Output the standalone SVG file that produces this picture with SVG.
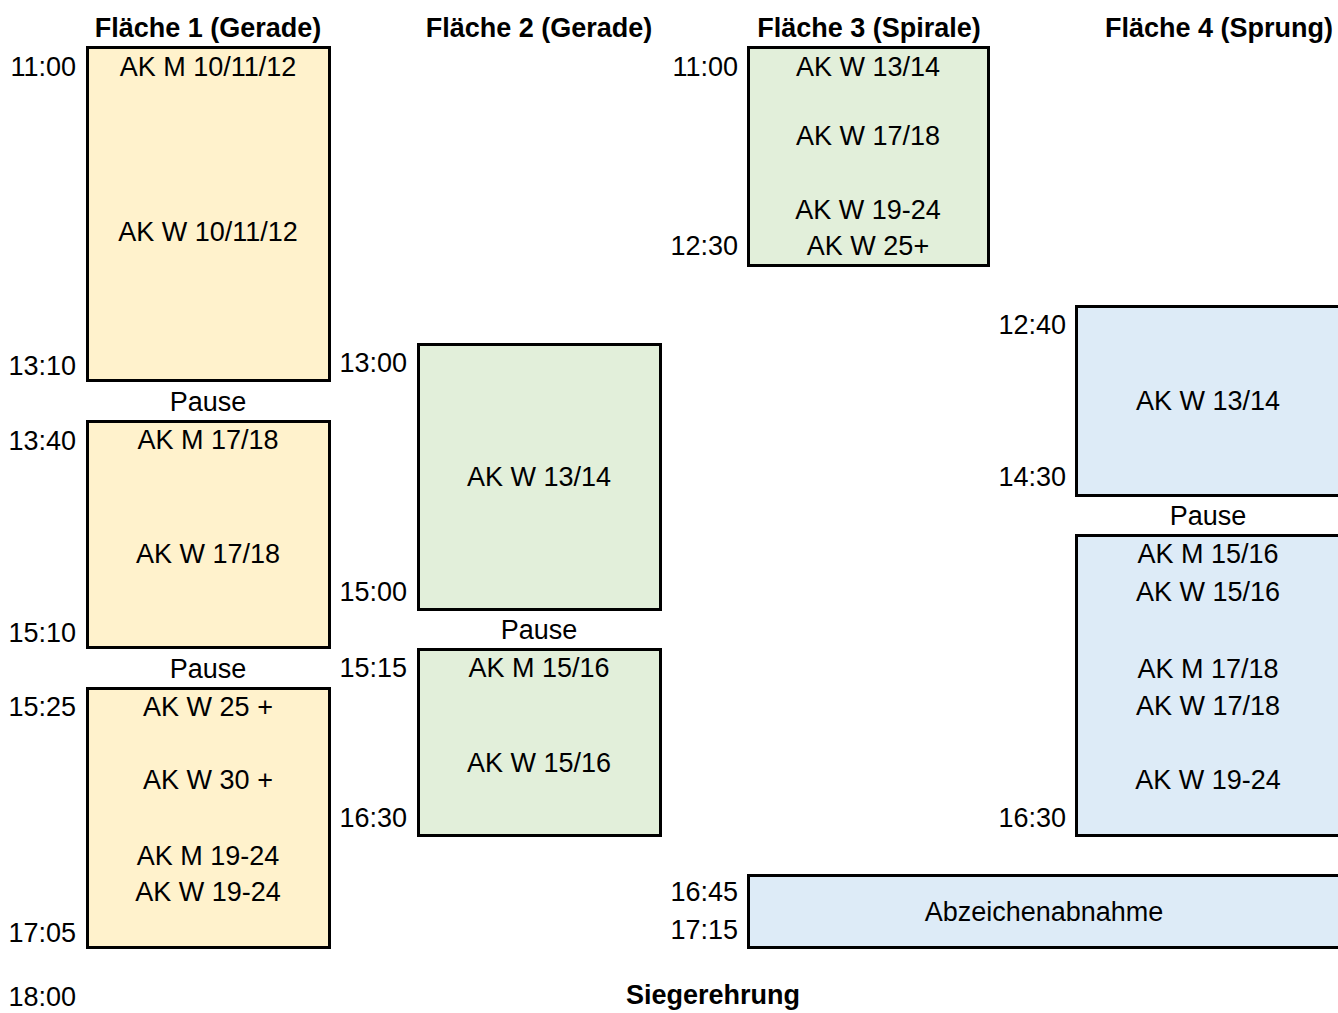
<svg xmlns="http://www.w3.org/2000/svg" width="1338" height="1013" viewBox="0 0 1338 1013">
<style>
text{font-family:"Liberation Sans",Arial,sans-serif;font-size:27px;fill:#000}
.h{font-weight:bold;text-anchor:middle}
.c{text-anchor:middle}
.t{text-anchor:end}
.y,.g,.b{stroke:#000;stroke-width:3}
.y{fill:#fff2cc}.g{fill:#e2efda}.b{fill:#ddebf7}
</style>
<rect width="1338" height="1013" fill="#fff"/>
<g id="headers">
<text class="h" x="208" y="37">Fläche 1 (Gerade)</text>
<text class="h" x="539" y="37">Fläche 2 (Gerade)</text>
<text class="h" x="869" y="37">Fläche 3 (Spirale)</text>
<text class="h" x="1219" y="37">Fläche 4 (Sprung)</text>
</g>
<g id="f1a">
<rect class="y" x="87.5" y="47.5" width="242" height="333"/>
<text class="c" x="208" y="76">AK M 10/11/12</text>
<text class="c" x="208" y="241">AK W 10/11/12</text>
<text class="t" x="76" y="76">11:00</text>
<text class="t" x="76" y="375">13:10</text>
</g>
<text class="c" x="208" y="411">Pause</text>
<g id="f1b">
<rect class="y" x="87.5" y="421.5" width="242" height="226"/>
<text class="c" x="208" y="449">AK M 17/18</text>
<text class="c" x="208" y="563">AK W 17/18</text>
<text class="t" x="76" y="450">13:40</text>
<text class="t" x="76" y="642">15:10</text>
</g>
<text class="c" x="208" y="678">Pause</text>
<g id="f1c">
<rect class="y" x="87.5" y="688.5" width="242" height="259"/>
<text class="c" x="208" y="716">AK W 25 +</text>
<text class="c" x="208" y="789">AK W 30 +</text>
<text class="c" x="208" y="865">AK M 19-24</text>
<text class="c" x="208" y="901">AK W 19-24</text>
<text class="t" x="76" y="716">15:25</text>
<text class="t" x="76" y="942">17:05</text>
</g>
<text class="t" x="76" y="1006">18:00</text>
<g id="f2a">
<rect class="g" x="418.5" y="344.5" width="242" height="265"/>
<text class="c" x="539" y="486">AK W 13/14</text>
<text class="t" x="407" y="372">13:00</text>
<text class="t" x="407" y="601">15:00</text>
</g>
<text class="c" x="539" y="639">Pause</text>
<g id="f2b">
<rect class="g" x="418.5" y="649.5" width="242" height="186"/>
<text class="c" x="539" y="677">AK M 15/16</text>
<text class="c" x="539" y="772">AK W 15/16</text>
<text class="t" x="407" y="677">15:15</text>
<text class="t" x="407" y="827">16:30</text>
</g>
<g id="f3">
<rect class="g" x="748.5" y="47.5" width="240" height="218"/>
<text class="c" x="868" y="76">AK W 13/14</text>
<text class="c" x="868" y="145">AK W 17/18</text>
<text class="c" x="868" y="219">AK W 19-24</text>
<text class="c" x="868" y="255">AK W 25+</text>
<text class="t" x="738" y="76">11:00</text>
<text class="t" x="738" y="255">12:30</text>
</g>
<g id="f4a">
<rect class="b" x="1076.5" y="306.5" width="270" height="189"/>
<text class="c" x="1208" y="410">AK W 13/14</text>
<text class="t" x="1066" y="334">12:40</text>
<text class="t" x="1066" y="486">14:30</text>
</g>
<text class="c" x="1208" y="525">Pause</text>
<g id="f4b">
<rect class="b" x="1076.5" y="535.5" width="270" height="300"/>
<text class="c" x="1208" y="563">AK M 15/16</text>
<text class="c" x="1208" y="601">AK W 15/16</text>
<text class="c" x="1208" y="678">AK M 17/18</text>
<text class="c" x="1208" y="715">AK W 17/18</text>
<text class="c" x="1208" y="789">AK W 19-24</text>
<text class="t" x="1066" y="827">16:30</text>
</g>
<g id="abzeichen">
<rect class="b" x="748.5" y="875.5" width="600" height="72"/>
<text class="c" x="1044" y="921">Abzeichenabnahme</text>
<text class="t" x="738" y="901">16:45</text>
<text class="t" x="738" y="939">17:15</text>
</g>
<text class="h" x="713" y="1004">Siegerehrung</text>
<g id="connectors"/>
</svg>
